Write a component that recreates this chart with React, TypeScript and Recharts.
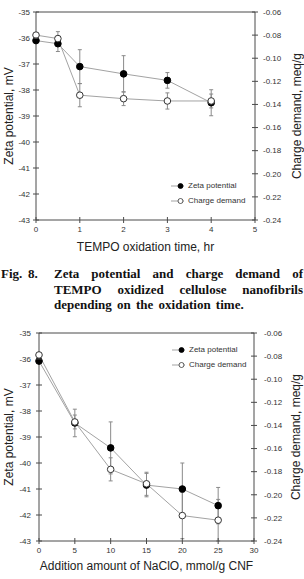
import React from "react";
import { ComposedChart, Line, XAxis, YAxis, ErrorBar, ReferenceLine, Legend } from "recharts";

// Fig. 8: oxidation time series
const oxidationTime = [0, 0.5, 1, 2, 3, 4];
const zetaByTime = [-36.1, -36.22, -37.1, -37.38, -37.63, -38.49];
const zetaByTimeErr = [0, 0.3, 0.65, 0.7, 0.3, 0.5];
const chargeByTime = [-0.08, -0.083, -0.132, -0.135, -0.137, -0.137];
const chargeByTimeErr = [0, 0.006, 0.01, 0.006, 0.007, 0.006];

// NaClO addition series
const nacloAmount = [0, 5, 10, 15, 20, 25];
const zetaByNaclo = [-36.08, -38.46, -39.42, -40.85, -41.0, -41.64];
const zetaByNacloErr = [0, 0.53, 1.0, 0.45, 1.0, 0.7];
const chargeByNaclo = [-0.079, -0.137, -0.178, -0.1905, -0.218, -0.222];
const chargeByNacloErr = [0, 0.006, 0.01, 0.01, 0.02, 0.018];

const zetaTicks = [-43, -42, -41, -40, -39, -38, -37, -36, -35];
const chargeTicks = [-0.24, -0.22, -0.2, -0.18, -0.16, -0.14, -0.12, -0.1, -0.08, -0.06];
const timeTicks = [0, 1, 2, 3, 4, 5];
const nacloTicks = [0, 5, 10, 15, 20, 25, 30];

const legendOrder = ["zeta", "charge"];

const SANS = "'Liberation Sans', Arial, sans-serif";
const AXIS = "#4a4a4a";
const LINE = "#a3a3a3";
const TICK = 3;

const seriesMarker: Record<string, { fill: string; stroke: string }> = {
  zeta: { fill: "#000", stroke: "#000" },
  charge: { fill: "#fff", stroke: "#333" },
};

function rows(xs: number[], zeta: number[], zetaErr: number[], charge: number[], chargeErr: number[]) {
  return xs.map((x, i) => ({ x, zeta: zeta[i], zetaErr: zetaErr[i], charge: charge[i], chargeErr: chargeErr[i] }));
}

const timeData = rows(oxidationTime, zetaByTime, zetaByTimeErr, chargeByTime, chargeByTimeErr);
const nacloData = rows(nacloAmount, zetaByNaclo, zetaByNacloErr, chargeByNaclo, chargeByNacloErr);

// cross-shaped tick plus label
function CrossTick(props: any) {
  const { x, y, payload, side, gap, fmt } = props;
  const label = fmt ? fmt(payload.value) : String(payload.value);
  const common = { fontSize: 8, fill: "#333", fontFamily: SANS };
  if (side === "bottom") {
    const ay = y - TICK - gap;
    return (
      <g>
        <line x1={x} x2={x} y1={ay - TICK} y2={ay + TICK} stroke={AXIS} />
        <text x={x} y={y} dy="0.71em" textAnchor="middle" {...common}>{label}</text>
      </g>
    );
  }
  const ax = side === "left" ? x + TICK + gap : x - TICK - gap;
  return (
    <g>
      <line x1={ax - TICK} x2={ax + TICK} y1={y} y2={y} stroke={AXIS} />
      <text x={x} y={y} dy="0.35em" textAnchor={side === "left" ? "end" : "start"} {...common}>{label}</text>
    </g>
  );
}

function yTitle(text: string, side: "left" | "right") {
  return (props: any) => {
    const vb = props.viewBox || { x: 0, y: 0, width: 0, height: 0 };
    const bx = side === "left" ? vb.x + 13 : vb.x + 46;
    const cy = vb.y + vb.height / 2;
    return (
      <text x={bx} y={cy} transform={`rotate(-90, ${bx}, ${cy})`} textAnchor="middle" fontSize={12} fill="#222" fontFamily={SANS}>
        {text}
      </text>
    );
  };
}

function SeriesLegend(props: any) {
  const items = [...(props.payload || [])].sort(
    (a: any, b: any) => legendOrder.indexOf(a.dataKey) - legendOrder.indexOf(b.dataKey)
  );
  return (
    <div style={{ fontFamily: SANS, fontSize: 8, color: "#333" }}>
      {items.map((entry: any) => {
        const m = seriesMarker[entry.dataKey] || seriesMarker.zeta;
        return (
          <div key={entry.dataKey} style={{ display: "flex", alignItems: "center", height: 15 }}>
            <svg width={17} height={10} style={{ display: "block" }}>
              <line x1={0} x2={13} y1={5} y2={5} stroke={LINE} />
              <circle cx={9.5} cy={5} r={2.5} fill={m.fill} stroke={m.stroke} strokeWidth={0.8} />
            </svg>
            <span style={{ lineHeight: "10px" }}>{entry.value}</span>
          </div>
        );
      })}
    </div>
  );
}

type PanelProps = {
  data: any[];
  height: number;
  marginTop: number;
  leftWidth: number;
  rightWidth: number;
  xDomain: [number, number];
  xTicks: number[];
  xTitle: string;
  tickGap: number;
  legendPos: { left: number; top: number };
};

function Panel(p: PanelProps) {
  const xAxisHeight = p.height - p.marginTop - 208;
  return (
    <ComposedChart width={304} height={p.height} data={p.data} margin={{ top: p.marginTop, right: 0, bottom: 0, left: 0 }}>
      <XAxis
        dataKey="x"
        type="number"
        domain={p.xDomain}
        ticks={p.xTicks}
        height={xAxisHeight}
        tickSize={TICK}
        tickMargin={3.5}
        tickLine={false}
        axisLine={{ stroke: AXIS }}
        tick={(t: any) => <CrossTick {...t} side="bottom" gap={3.5} />}
        label={{ value: p.xTitle, position: "insideBottom", offset: 9, fontSize: 12, fill: "#222", fontFamily: SANS }}
        interval={0}
      />
      <YAxis
        yAxisId="left"
        domain={[-43, -35]}
        ticks={zetaTicks}
        width={p.leftWidth}
        tickSize={TICK}
        tickMargin={p.tickGap}
        tickLine={false}
        axisLine={{ stroke: AXIS }}
        tick={(t: any) => <CrossTick {...t} side="left" gap={p.tickGap} />}
        label={{ content: yTitle("Zeta potential, mV", "left") }}
        interval={0}
      />
      <YAxis
        yAxisId="right"
        orientation="right"
        domain={[-0.24, -0.06]}
        ticks={chargeTicks}
        width={p.rightWidth}
        tickSize={TICK}
        tickMargin={p.tickGap + 2}
        tickLine={false}
        axisLine={{ stroke: AXIS }}
        tick={(t: any) => <CrossTick {...t} side="right" gap={p.tickGap + 2} fmt={(v: number) => v.toFixed(2)} />}
        label={{ content: yTitle("Charge demand, meq/g", "right") }}
        interval={0}
      />
      <ReferenceLine yAxisId="left" y={-35} stroke={AXIS} />
      {/* centered + middle keeps the legend from reserving plot space */}
      <Legend
        content={<SeriesLegend />}
        layout="vertical"
        align="center"
        verticalAlign="middle"
        wrapperStyle={{ left: p.legendPos.left, top: p.legendPos.top, width: 80 }}
      />
      <Line
        yAxisId="left"
        dataKey="zeta"
        name="Zeta potential"
        stroke={LINE}
        strokeWidth={1}
        dot={{ r: 3.3, fill: "#000", stroke: "#000", strokeWidth: 1 }}
        isAnimationActive={false}
      >
        <ErrorBar dataKey="zetaErr" width={2} stroke="#8a8a8a" strokeWidth={1} direction="y" isAnimationActive={false} />
      </Line>
      <Line
        yAxisId="right"
        dataKey="charge"
        name="Charge demand"
        stroke={LINE}
        strokeWidth={1}
        dot={{ r: 3.3, fill: "#fff", stroke: "#333", strokeWidth: 1 }}
        isAnimationActive={false}
      >
        <ErrorBar dataKey="chargeErr" width={2} stroke="#8a8a8a" strokeWidth={1} direction="y" isAnimationActive={false} />
      </Line>
    </ComposedChart>
  );
}

const captionFont: React.CSSProperties = {
  fontFamily: "'Liberation Serif', 'Times New Roman', serif",
  fontWeight: "bold",
  fontSize: 13,
  lineHeight: "15.5px",
  color: "#111",
};

function Caption() {
  return (
    <div style={{ position: "absolute", left: 0, top: 266, width: 304, height: 48, ...captionFont }}>
      <span style={{ position: "absolute", left: 1 }}>Fig.</span>
      <span style={{ position: "absolute", left: 28 }}>8.</span>
      <div style={{ position: "absolute", left: 54, width: 249 }}>
        <div style={{ textAlign: "justify", textAlignLast: "justify" }}>Zeta potential and charge demand of</div>
        <div style={{ textAlign: "justify", textAlignLast: "justify" }}>TEMPO oxidized cellulose nanofibrils</div>
        <div style={{ wordSpacing: 2 }}>depending on the oxidation time.</div>
      </div>
    </div>
  );
}

export default function App() {
  return (
    <div style={{ position: "absolute", left: 0, top: 0, width: 304, height: 579, background: "#fff", overflow: "hidden" }}>
      <div style={{ position: "absolute", left: 0, top: 0 }}>
        <Panel
          data={timeData}
          height={260}
          marginTop={12}
          leftWidth={36}
          rightWidth={49}
          xDomain={[0, 5]}
          xTicks={timeTicks}
          xTitle="TEMPO oxidation time, hr"
          tickGap={3}
          legendPos={{ left: 171, top: 178 }}
        />
      </div>
      <Caption />
      <div style={{ position: "absolute", left: 0, top: 320 }}>
        <Panel
          data={nacloData}
          height={259}
          marginTop={13}
          leftWidth={39}
          rightWidth={50}
          xDomain={[0, 30]}
          xTicks={nacloTicks}
          xTitle="Addition amount of NaClO, mmol/g CNF"
          tickGap={5}
          legendPos={{ left: 172, top: 22 }}
        />
      </div>
    </div>
  );
}
